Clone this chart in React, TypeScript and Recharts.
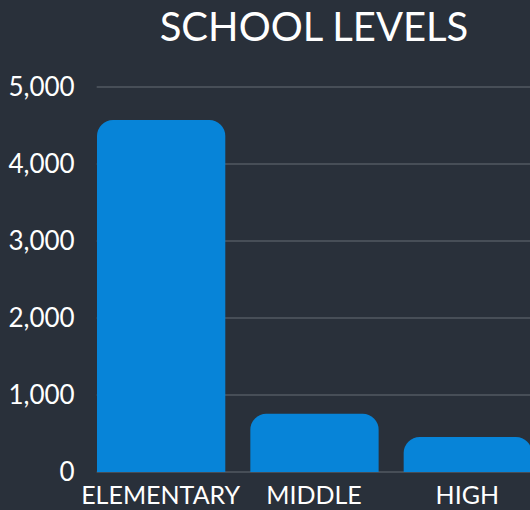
import { BarChart, Bar, XAxis, YAxis, CartesianGrid } from 'recharts';

const levels = ['ELEMENTARY', 'MIDDLE', 'HIGH'];
const schools = [4570, 757, 455];
const yTicks = [0, 1000, 2000, 3000, 4000, 5000];

const data = levels.map((level, i) => ({ level, schools: schools[i] }));

const BG = '#29303a';
const BAR = '#0784d8';
const FONT = 'Lato, "Open Sans", sans-serif';

export default function App() {
  return (
    <div style={{ position: 'absolute', left: 0, top: 0, width: 530, height: 510, overflow: 'hidden', background: BG, fontFamily: FONT }}>
      <div style={{ position: 'absolute', left: 0, top: 2, width: 628, textAlign: 'center', color: '#fff', fontSize: 40, lineHeight: '48px' }}>
        SCHOOL LEVELS
      </div>
      <BarChart width={560} height={510} data={data} margin={{ top: 87, right: 16, bottom: 0, left: 0 }}>
        <CartesianGrid vertical={false} stroke="#666c74" strokeWidth={1} />
        <XAxis
          dataKey="level"
          axisLine={false}
          tickLine={false}
          tickSize={0}
          tickMargin={14}
          height={38}
          padding={{ left: -12.7, right: 0 }}
          interval={0}
          tick={{ fill: '#ffffff', fontSize: 25, fontFamily: FONT }}
        />
        <YAxis
          domain={[0, 5000]}
          ticks={yTicks}
          width={96.7}
          axisLine={false}
          tickLine={false}
          tickSize={0}
          tickMargin={22}
          tickFormatter={(v: number) => v.toLocaleString('en-US')}
          tick={{ fill: '#ffffff', fontSize: 26, fontFamily: FONT }}
        />
        <Bar dataKey="schools" fill={BAR} barSize={128.3} radius={[16, 16, 0, 0]} isAnimationActive={false} />
      </BarChart>
    </div>
  );
}
